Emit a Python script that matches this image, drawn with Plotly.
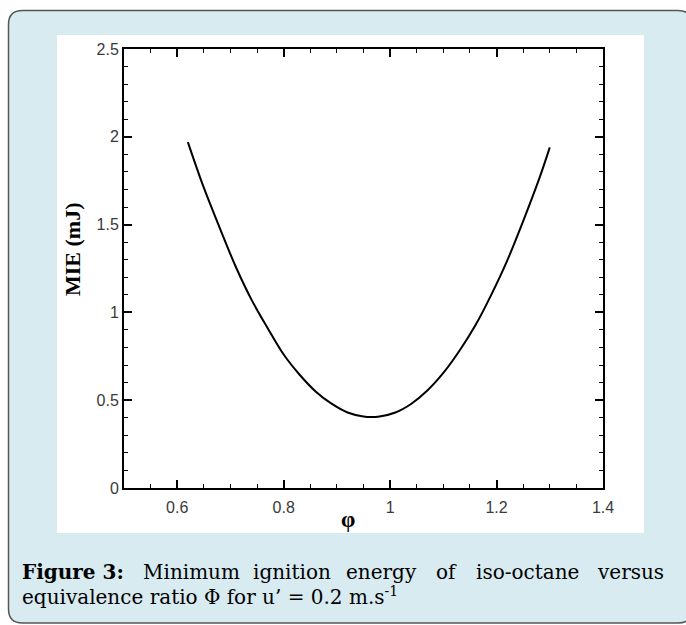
import plotly.graph_objects as go

# Minimum ignition energy (mJ) of iso-octane vs equivalence ratio, u' = 0.2 m/s
phi = [0.62, 0.65, 0.68, 0.71, 0.74, 0.77, 0.80, 0.83, 0.86, 0.89, 0.92, 0.95,
       0.965, 0.98, 1.01, 1.04, 1.07, 1.10, 1.13, 1.16, 1.19, 1.22, 1.25, 1.28, 1.30]
mie = [1.97, 1.71, 1.48, 1.26, 1.07, 0.91, 0.76, 0.645, 0.55, 0.48, 0.43, 0.407,
       0.404, 0.407, 0.43, 0.48, 0.555, 0.655, 0.78, 0.925, 1.10, 1.295, 1.52, 1.76, 1.94]

x_ticks = [0.6, 0.8, 1.0, 1.2, 1.4]
y_ticks = [0, 0.5, 1.0, 1.5, 2.0, 2.5]

caption_words = ["<b>Figure 3:</b>", "Minimum", "ignition", "energy", "of", "iso-octane", "versus"]
caption_line2 = "equivalence ratio Φ for u’ = 0.2 m.s<sup>-1</sup>"

W, H = 686, 625
L, R, T, B = 124, 603, 49, 488  # plot area in pixels


def px(x):
    return (x - L) / (R - L)


def py(y):
    return (B - y) / (B - T)


fig = go.Figure()
fig.add_trace(go.Scatter(x=phi, y=mie, mode="lines",
                         line=dict(color="black", width=2, shape="spline"),
                         showlegend=False, hoverinfo="skip"))

axis_common = dict(
    showline=True, linewidth=2, linecolor="black", mirror="allticks",
    ticks="inside", ticklen=8, tickwidth=2, tickcolor="black",
    showgrid=False, zeroline=False,
    tickfont=dict(family="Liberation Sans, Arial", size=16, color="#3a3a3a"),
)

fig.update_xaxes(range=[0.5, 1.4], tickvals=x_ticks, ticklabelstandoff=4,
                 minor=dict(ticks="inside", ticklen=4, tickwidth=1, dtick=0.05,
                            tickcolor="black"),
                 **axis_common)
fig.update_yaxes(range=[0, 2.5], tickvals=y_ticks,
                 minor=dict(ticks="inside", ticklen=4, tickwidth=1, dtick=0.1,
                            tickcolor="black"),
                 **axis_common)

# caption box with rounded corners, and the white figure panel
x0, y0, x1, y1, r = 8.5, 10.5, 692, 623, 14
path = (f"M {px(x0 + r)},{py(y0)} L {px(x1 - r)},{py(y0)} "
        f"Q {px(x1)},{py(y0)} {px(x1)},{py(y0 + r)} "
        f"L {px(x1)},{py(y1 - r)} Q {px(x1)},{py(y1)} {px(x1 - r)},{py(y1)} "
        f"L {px(x0 + r)},{py(y1)} Q {px(x0)},{py(y1)} {px(x0)},{py(y1 - r)} "
        f"L {px(x0)},{py(y0 + r)} Q {px(x0)},{py(y0)} {px(x0 + r)},{py(y0)} Z")
shapes = [
    dict(type="path", path=path, xref="paper", yref="paper", layer="below",
         fillcolor="#d7ebf1", line=dict(color="#555555", width=1.5)),
    dict(type="rect", xref="paper", yref="paper", layer="below",
         x0=px(57), x1=px(644), y0=py(533), y1=py(35),
         fillcolor="white", line=dict(width=0)),
]

serif = "DejaVu Serif"
annotations = [
    dict(text="<b>MIE (mJ)</b>", textangle=-90, x=px(72), y=py(250),
         xref="paper", yref="paper", showarrow=False, xanchor="center", yanchor="middle",
         font=dict(family="Liberation Serif, Times New Roman", size=22, color="black")),
    dict(text="<b>φ</b>", x=px(348), y=py(519), xref="paper", yref="paper",
         showarrow=False, xanchor="center", yanchor="middle",
         font=dict(family="Liberation Serif, Times New Roman", size=23, color="black")),
    dict(text=caption_line2, x=px(20), y=py(596), xref="paper", yref="paper",
         showarrow=False, xanchor="left", yanchor="middle",
         font=dict(family=serif, size=20, color="black")),
]

# justified first caption line
word_left = [20, 141, 251, 344, 434, 474, 666]
for i, (w, xl) in enumerate(zip(caption_words, word_left)):
    annotations.append(dict(text=w, x=px(xl), y=py(572), xref="paper", yref="paper",
                            showarrow=False,
                            xanchor="right" if i == len(caption_words) - 1 else "left",
                            yanchor="middle",
                            font=dict(family=serif, size=20, color="black")))

fig.update_layout(
    width=W, height=H,
    margin=dict(l=L, r=W - R, t=T, b=H - B),
    paper_bgcolor="white", plot_bgcolor="white",
    shapes=shapes, annotations=annotations,
)

fig.write_html("out.html")
